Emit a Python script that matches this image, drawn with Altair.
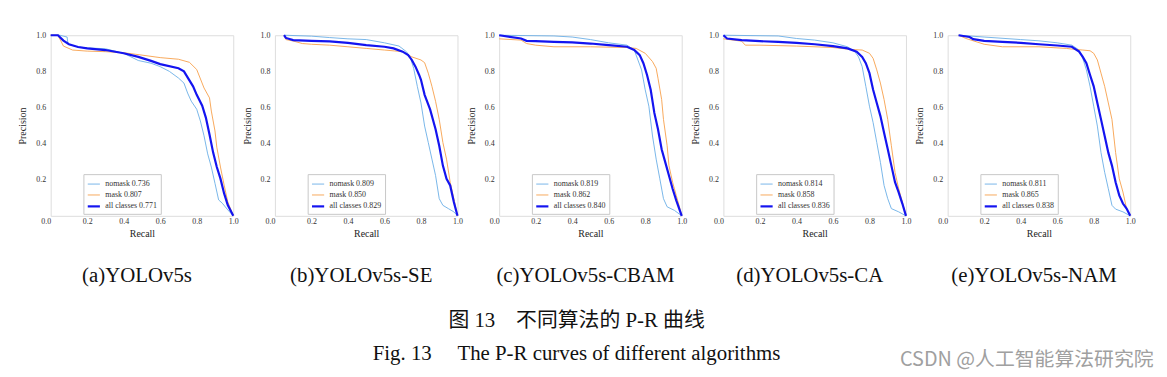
import altair as alt
import pandas as pd

captions = ["(a)YOLOv5s", "(b)YOLOv5s-SE", "(c)YOLOv5s-CBAM", "(d)YOLOv5s-CA", "(e)YOLOv5s-NAM"]
series_names = ["nomask", "mask", "all classes"]
ap_nomask = [0.736, 0.809, 0.819, 0.814, 0.811]
ap_mask = [0.807, 0.850, 0.862, 0.858, 0.865]
ap_all = [0.771, 0.829, 0.840, 0.836, 0.838]
colors = ["#6aaee6", "#f7a04a", "#1414f0"]
widths = [0.9, 0.9, 2.2]

# Panel (a)
a_nomask_r = [0, 0.05, 0.09, 0.095, 0.15, 0.2, 0.3, 0.4, 0.48, 0.55, 0.6, 0.65, 0.7, 0.73, 0.75, 0.77, 0.8, 0.82, 0.84, 0.86, 0.88, 0.9, 0.92, 0.94, 0.97, 1.0]
a_nomask_p = [1.0, 1.0, 0.99, 0.95, 0.935, 0.93, 0.925, 0.90, 0.86, 0.845, 0.826, 0.80, 0.763, 0.735, 0.68, 0.635, 0.59, 0.525, 0.443, 0.343, 0.27, 0.18, 0.088, 0.07, 0.033, 0.0]
a_mask_r = [0, 0.04, 0.07, 0.12, 0.2, 0.3, 0.4, 0.5, 0.6, 0.7, 0.76, 0.8, 0.84, 0.87, 0.88, 0.9, 0.91, 0.93, 0.95, 0.97, 1.0]
a_mask_p = [1.0, 1.0, 0.94, 0.918, 0.912, 0.909, 0.903, 0.89, 0.876, 0.867, 0.85, 0.81, 0.708, 0.653, 0.58, 0.47, 0.38, 0.27, 0.17, 0.078, 0.0]
a_all_r = [0, 0.04, 0.07, 0.1, 0.15, 0.2, 0.3, 0.4, 0.48, 0.55, 0.6, 0.7, 0.73, 0.76, 0.78, 0.8, 0.83, 0.85, 0.87, 0.89, 0.91, 0.93, 0.95, 0.97, 1.0]
a_all_p = [1.0, 1.0, 0.97, 0.95, 0.935, 0.927, 0.918, 0.90, 0.88, 0.858, 0.84, 0.817, 0.80, 0.75, 0.717, 0.67, 0.61, 0.544, 0.45, 0.35, 0.27, 0.206, 0.124, 0.06, 0.0]

# Panel (b)
b_nomask_r = [0.05, 0.2, 0.3, 0.4, 0.5, 0.6, 0.68, 0.72, 0.74, 0.76, 0.78, 0.8, 0.82, 0.84, 0.86, 0.88, 0.9, 0.92, 0.95, 0.98, 1.0]
b_nomask_p = [1.0, 0.995, 0.987, 0.98, 0.976, 0.958, 0.94, 0.909, 0.88, 0.817, 0.717, 0.625, 0.497, 0.406, 0.314, 0.223, 0.095, 0.058, 0.04, 0.022, 0.0]
b_mask_r = [0.05, 0.06, 0.1, 0.15, 0.2, 0.3, 0.4, 0.5, 0.6, 0.7, 0.75, 0.8, 0.82, 0.84, 0.86, 0.88, 0.9, 0.92, 0.94, 0.96, 0.98, 1.0]
b_mask_p = [1.0, 0.976, 0.968, 0.954, 0.95, 0.945, 0.936, 0.927, 0.918, 0.909, 0.88, 0.863, 0.848, 0.79, 0.717, 0.634, 0.534, 0.406, 0.314, 0.186, 0.095, 0.0]
b_all_r = [0.05, 0.06, 0.1, 0.2, 0.3, 0.4, 0.5, 0.6, 0.65, 0.7, 0.73, 0.75, 0.77, 0.79, 0.8, 0.82, 0.85, 0.88, 0.9, 0.92, 0.94, 0.96, 0.98, 1.0]
b_all_p = [1.0, 0.985, 0.973, 0.969, 0.966, 0.958, 0.945, 0.936, 0.927, 0.909, 0.89, 0.863, 0.826, 0.78, 0.753, 0.67, 0.589, 0.479, 0.388, 0.278, 0.205, 0.168, 0.077, 0.0]

# Panel (c)
c_nomask_r = [0, 0.3, 0.4, 0.5, 0.6, 0.7, 0.74, 0.76, 0.78, 0.8, 0.82, 0.84, 0.86, 0.88, 0.9, 0.92, 0.96, 1.0]
c_nomask_p = [1.0, 0.996, 0.99, 0.976, 0.958, 0.945, 0.918, 0.863, 0.808, 0.698, 0.607, 0.442, 0.314, 0.205, 0.095, 0.05, 0.03, 0.0]
c_mask_r = [0, 0.12, 0.15, 0.2, 0.3, 0.5, 0.7, 0.75, 0.8, 0.84, 0.86, 0.87, 0.89, 0.9, 0.92, 0.93, 0.95, 0.97, 0.99, 1.0]
c_mask_p = [0.98, 0.973, 0.954, 0.945, 0.936, 0.936, 0.932, 0.927, 0.9, 0.854, 0.817, 0.762, 0.644, 0.534, 0.388, 0.278, 0.186, 0.113, 0.04, 0.0]
c_all_r = [0, 0.12, 0.15, 0.2, 0.3, 0.4, 0.5, 0.6, 0.7, 0.74, 0.77, 0.79, 0.81, 0.83, 0.85, 0.87, 0.89, 0.91, 0.93, 0.95, 0.97, 1.0]
c_all_p = [1.0, 0.982, 0.969, 0.967, 0.963, 0.96, 0.954, 0.945, 0.936, 0.918, 0.89, 0.845, 0.78, 0.698, 0.57, 0.479, 0.369, 0.296, 0.223, 0.15, 0.086, 0.0]

# Panel (d)
d_nomask_r = [0, 0.3, 0.4, 0.5, 0.6, 0.68, 0.72, 0.74, 0.76, 0.78, 0.8, 0.82, 0.84, 0.86, 0.88, 0.9, 0.92, 0.96, 1.0]
d_nomask_p = [1.0, 0.996, 0.982, 0.973, 0.958, 0.936, 0.909, 0.88, 0.826, 0.717, 0.607, 0.516, 0.406, 0.296, 0.168, 0.095, 0.04, 0.022, 0.0]
d_mask_r = [0, 0.1, 0.12, 0.2, 0.4, 0.6, 0.7, 0.76, 0.8, 0.82, 0.84, 0.86, 0.88, 0.9, 0.92, 0.94, 0.96, 0.98, 1.0]
d_mask_p = [0.98, 0.967, 0.945, 0.945, 0.94, 0.932, 0.921, 0.918, 0.9, 0.872, 0.808, 0.735, 0.644, 0.534, 0.388, 0.241, 0.15, 0.077, 0.0]
d_all_r = [0, 0.02, 0.1, 0.2, 0.3, 0.4, 0.5, 0.6, 0.68, 0.73, 0.76, 0.78, 0.8, 0.82, 0.84, 0.86, 0.88, 0.9, 0.92, 0.94, 0.96, 0.98, 1.0]
d_all_p = [1.0, 0.982, 0.973, 0.967, 0.963, 0.958, 0.95, 0.94, 0.927, 0.909, 0.88, 0.845, 0.79, 0.698, 0.625, 0.552, 0.46, 0.37, 0.278, 0.186, 0.13, 0.068, 0.0]

# Panel (e)
e_nomask_r = [0.06, 0.2, 0.4, 0.5, 0.6, 0.68, 0.72, 0.74, 0.76, 0.78, 0.8, 0.82, 0.84, 0.86, 0.88, 0.9, 0.92, 0.96, 1.0]
e_nomask_p = [1.0, 0.99, 0.976, 0.969, 0.958, 0.945, 0.918, 0.872, 0.808, 0.717, 0.607, 0.497, 0.35, 0.241, 0.15, 0.058, 0.037, 0.022, 0.0]
e_mask_r = [0.06, 0.1, 0.2, 0.3, 0.5, 0.65, 0.7, 0.74, 0.78, 0.8, 0.82, 0.84, 0.86, 0.88, 0.9, 0.92, 0.94, 0.96, 0.98, 1.0]
e_mask_p = [1.0, 0.982, 0.95, 0.936, 0.936, 0.927, 0.921, 0.918, 0.914, 0.9, 0.863, 0.79, 0.717, 0.625, 0.534, 0.35, 0.205, 0.132, 0.04, 0.0]
e_all_r = [0.06, 0.12, 0.14, 0.2, 0.3, 0.4, 0.5, 0.6, 0.68, 0.72, 0.74, 0.76, 0.78, 0.8, 0.82, 0.84, 0.86, 0.88, 0.9, 0.92, 0.94, 0.96, 0.98, 1.0]
e_all_p = [1.0, 0.99, 0.978, 0.969, 0.963, 0.958, 0.95, 0.943, 0.936, 0.909, 0.88, 0.845, 0.78, 0.717, 0.625, 0.534, 0.442, 0.35, 0.278, 0.186, 0.113, 0.068, 0.04, 0.0]

panels_data = [
    [(a_nomask_r, a_nomask_p), (a_mask_r, a_mask_p), (a_all_r, a_all_p)],
    [(b_nomask_r, b_nomask_p), (b_mask_r, b_mask_p), (b_all_r, b_all_p)],
    [(c_nomask_r, c_nomask_p), (c_mask_r, c_mask_p), (c_all_r, c_all_p)],
    [(d_nomask_r, d_nomask_p), (d_mask_r, d_mask_p), (d_all_r, d_all_p)],
    [(e_nomask_r, e_nomask_p), (e_mask_r, e_mask_p), (e_all_r, e_all_p)],
]

SERIF = "Liberation Serif"
CJK = "Liberation Serif, Noto Sans CJK SC"
SP = "\u2003"

panels = []
for i, curves in enumerate(panels_data):
    aps = [ap_nomask[i], ap_mask[i], ap_all[i]]
    labels = [f"{n} {ap:.3f}" for n, ap in zip(series_names, aps)]
    rows = []
    for k, (rs, ps) in enumerate(curves):
        for j, (r, p) in enumerate(zip(rs, ps)):
            rows.append({"recall": r, "precision": p, "series": labels[k], "idx": j, "thick": k == 2})
    df = pd.DataFrame(rows)

    x_enc = alt.X("recall:Q", scale=alt.Scale(domain=[0, 1], nice=False),
                  axis=alt.Axis(values=[0, 0.2, 0.4, 0.6, 0.8, 1.0], format=".1f", title="Recall",
                                grid=False, domain=False, ticks=False, labelFlush=False,
                                labelAlign={"condition": {"test": "datum.value == 0", "value": "right"}, "value": "center"},
                                labelFont=SERIF, labelFontSize=8, labelColor="#333", labelPadding=2,
                                titleFont=SERIF, titleFontSize=10, titleFontWeight="normal", titleColor="#222",
                                titlePadding=3))
    y_enc = alt.Y("precision:Q", scale=alt.Scale(domain=[0, 1], nice=False),
                  axis=alt.Axis(values=[0.2, 0.4, 0.6, 0.8, 1.0], format=".1f", title="Precision",
                                grid=False, domain=False, ticks=False, labelFlush=False,
                                labelFont=SERIF, labelFontSize=8, labelColor="#333", labelPadding=5,
                                titleFont=SERIF, titleFontSize=10, titleFontWeight="normal", titleColor="#222",
                                titlePadding=8))
    leg = dict(title=None, orient="none", legendX=33, legendY=140,
               symbolType="stroke", symbolSize=150, labelFont=SERIF,
               labelFontSize=8, labelColor="#333", strokeColor="#c8c8c8",
               padding=3, rowPadding=-2, labelOffset=4, fillColor="white")
    color_enc = alt.Color("series:N", scale=alt.Scale(domain=labels, range=colors), legend=alt.Legend(**leg))
    sw_enc = alt.StrokeWidth("series:N", scale=alt.Scale(type="ordinal", domain=labels, range=widths),
                             legend=alt.Legend(**leg))
    base = alt.Chart(df).mark_line(interpolate="linear").encode(
        x=x_enc, y=y_enc, color=color_enc, strokeWidth=sw_enc, order="idx:Q", detail="series:N")
    thin = base.transform_filter("!datum.thick")
    thick = base.transform_filter("datum.thick")
    panel = alt.layer(thin, thick).properties(
        width=184, height=182,
        title=alt.TitleParams(captions[i], orient="bottom", anchor="middle", frame="group",
                              font=SERIF, fontSize=21, fontWeight="normal", color="#111", offset=27, dx=-5))
    panels.append(panel)

row = alt.hconcat(*panels, spacing=2).resolve_scale(color="independent", strokeWidth="independent").properties(
    title=alt.TitleParams([f"图 13{SP}不同算法的 P-R 曲线", f"Fig. 13{SP} The P-R curves of different algorithms"],
                          orient="bottom", anchor="middle", font=CJK, fontSize=21, fontWeight="normal",
                          color="#111", offset=24, lineHeight=33))

chart = alt.vconcat(row).properties(
    title=alt.TitleParams("CSDN @人工智能算法研究院", orient="bottom", anchor="end", font="Noto Sans CJK SC",
                          fontSize=20, fontWeight="normal", color="#a0a0a0", offset=-14, dx=18),
    padding={"top": 21, "left": 9, "right": 5, "bottom": 5},
).configure_view(stroke="#8a8a8a", strokeWidth=1).configure(background="white")

chart.save("out.html", embed_options={"renderer": "svg", "actions": False})
